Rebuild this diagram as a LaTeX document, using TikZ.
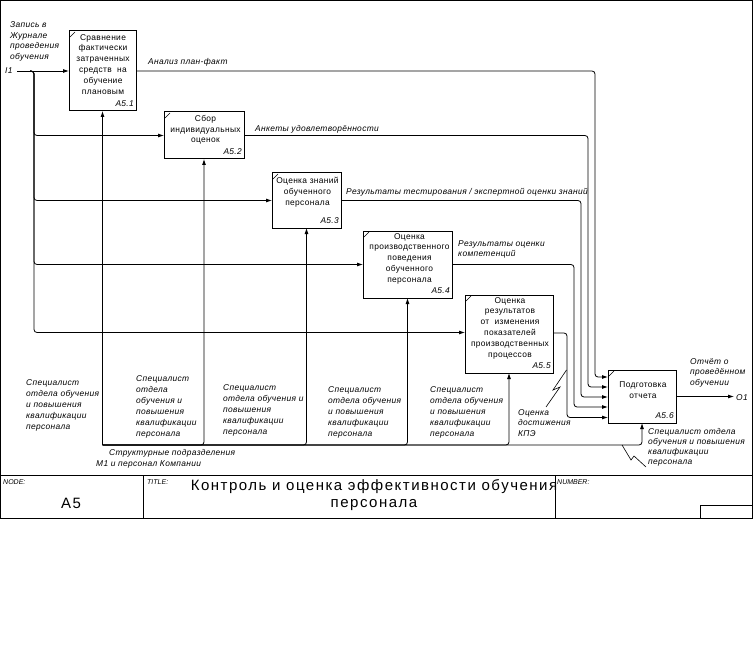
\documentclass[tikz,border=0pt]{standalone}
\usepackage{fontspec}
\setmainfont{Liberation Sans}[LetterSpace=4]
\newfontfamily\plainsans{Liberation Sans}
\newfontfamily\ttlfont{Liberation Sans}[LetterSpace=10]
\usetikzlibrary{arrows.meta}
\begin{document}
\begin{tikzpicture}[x=1pt,y=-1pt,
  fbox/.style={draw, line width=1pt, inner sep=0pt, outer sep=0pt,
    path picture={\draw[line width=0.6pt] ([xshift=1pt,yshift=-6pt]path picture bounding box.north west) -- ([xshift=6pt,yshift=-1pt]path picture bounding box.north west);}},
  arr/.style={line width=0.8pt, -{Latex[length=6pt,width=4pt]}},
  conn/.style={line width=0.6pt},
  btxt/.style={font=\fontsize{8.4}{10.8}\selectfont, align=center, inner sep=0pt},
  lbl/.style={font=\fontsize{8.4}{11}\selectfont\itshape, align=left, inner sep=0pt},
  idl/.style={font=\fontsize{8.4}{10}\selectfont\itshape, inner sep=0pt},
  tiny/.style={font=\plainsans\fontsize{7}{8}\selectfont\itshape, inner sep=0pt},
  ttl/.style={font=\ttlfont\fontsize{15}{17}\selectfont, align=center, inner sep=0pt},
]
\useasboundingbox (0,0) rectangle (754,663);
\fill[white] (0,0) rectangle (754,663);

% frame and title block
\draw[line width=1pt] (0.5,0.5) rectangle (752.5,518);
\draw[line width=1pt] (0.5,475) -- (752.5,475);
\draw[line width=0.8pt] (143,475) -- (143,518);
\draw[line width=0.8pt] (555,475) -- (555,518);
\draw[line width=0.8pt] (700,505) rectangle (752.5,518);
\node[tiny, anchor=base west] (nd) at (3,484) {NODE:};
\node[tiny, anchor=base west] (tt) at (147,484) {TITLE:};
\node[tiny, anchor=base west] (nb) at (557,484) {NUMBER:};
\node[font=\ttlfont\fontsize{15}{17}\selectfont, inner sep=0pt, anchor=base] (a5) at (71,508) {A5};
\node[ttl] (title) at (374,495) {Контроль и оценка эффективности обучения\\персонала};

% boxes
\node[fbox, minimum width=67pt, minimum height=80pt] (b1) at (102.5,71) {};
\node[fbox, minimum width=80pt, minimum height=47pt] (b2) at (204,135.5) {};
\node[fbox, minimum width=69pt, minimum height=55pt] (b3) at (306.5,200.5) {};
\node[fbox, minimum width=89pt, minimum height=67pt] (b4) at (407.5,264.5) {};
\node[fbox, minimum width=88pt, minimum height=78pt] (b5) at (509,334) {};
\node[fbox, minimum width=68pt, minimum height=53pt] (b6) at (642,396.5) {};

\node[btxt, anchor=north] (t1) at ([xshift=0.5pt,yshift=-3pt]b1.north) {Сравнение\\фактически\\затраченных\\средств~~на\\обучение\\плановым};
\node[btxt, anchor=north] (t2) at ([xshift=1.5pt,yshift=-3pt]b2.north) {Сбор\\индивидуальных\\оценок};
\node[btxt, anchor=north] (t3) at ([xshift=1pt,yshift=-4pt]b3.north) {Оценка знаний\\обученного\\персонала};
\node[btxt, anchor=north] (t4) at ([xshift=2pt,yshift=-2pt]b4.north) {Оценка\\производственного\\поведения\\обученного\\персонала};
\node[btxt, anchor=north] (t5) at ([xshift=1pt,yshift=-2pt]b5.north) {Оценка\\результатов\\от~~изменения\\показателей\\производственных\\процессов};
\node[btxt, anchor=north] (t6) at ([xshift=1pt,yshift=-12pt]b6.north) {Подготовка\\отчета};

\node[idl, anchor=base east] (d1) at ([xshift=-2pt,yshift=4.5pt]b1.south east) {A5.1};
\node[idl, anchor=base east] (d2) at ([xshift=-2pt,yshift=4pt]b2.south east) {A5.2};
\node[idl, anchor=base east] (d3) at ([xshift=-2pt,yshift=4.5pt]b3.south east) {A5.3};
\node[idl, anchor=base east] (d4) at ([xshift=-2pt,yshift=4.5pt]b4.south east) {A5.4};
\node[idl, anchor=base east] (d5) at ([xshift=-2pt,yshift=5pt]b5.south east) {A5.5};
\node[idl, anchor=base east] (d6) at ([xshift=-2pt,yshift=4.5pt]b6.south east) {A5.6};

% boundary points
\coordinate (i1) at (17,71);
\coordinate (ij) at (30,71);
\coordinate (m1) at (102.5,445);
\coordinate (o1) at (734,396.5);

% inputs
\draw[arr] (i1) -- (b1.west);
\draw[arr, rounded corners=3pt] (ij) -- (34,71) |- (b2.west);
\draw[arr, rounded corners=3pt] (ij) -- (34,71) |- (b3.west);
\draw[arr, rounded corners=3pt] (ij) -- (34,71) |- (b4.west);
\draw[arr, rounded corners=3pt] (ij) -- (34,71) |- ([yshift=1.5pt]b5.west);

% outputs to A5.6
\draw[arr, rounded corners=3pt] (b1.east) -| (595,377) -- ([yshift=19.5pt]b6.west);
\draw[arr, rounded corners=3pt] (b2.east) -| (588,387) -- ([yshift=9.5pt]b6.west);
\draw[arr, rounded corners=3pt] (b3.east) -| (581,397) -- ([yshift=-0.5pt]b6.west);
\draw[arr, rounded corners=3pt] (b4.east) -| (574,407) -- ([yshift=-10.5pt]b6.west);
\draw[arr, rounded corners=3pt] ([yshift=1pt]b5.east) -| (567,417.5) -- ([yshift=-21pt]b6.west);
\draw[arr] (b6.east) -- (o1);

% mechanisms
\draw[arr] (m1) -- (b1.south);
\draw[arr, rounded corners=3pt] (m1) -| (b2.south);
\draw[arr, rounded corners=3pt] (m1) -| (b3.south);
\draw[arr, rounded corners=3pt] (m1) -| (b4.south);
\draw[arr, rounded corners=3pt] (m1) -| (b5.south);
\draw[arr, rounded corners=3pt] (m1) -| (b6.south);

% squiggles
\draw[conn] (566.5,370) -- (553,390) -- (560,387) -- (546,407);
\draw[conn] (622,445) -- (631,460) -- (634,456) -- (646,467);

% labels
\node[lbl, anchor=north west, font=\fontsize{8.4}{10.6}\selectfont\itshape] (lzap) at (10,21.5) {Запись в\\Журнале\\проведения\\обучения};
\node[lbl, anchor=base west] (li1) at (5,74) {I1};
\node[lbl, anchor=base west] (lo1) at (736,400) {O1};
\node[lbl, anchor=base west] (la1) at (148,65) {Анализ план-факт};
\node[lbl, anchor=base west] (la2) at (255,132) {Анкеты удовлетворённости};
\node[lbl, anchor=base west] (la3) at (346,194) {Результаты тестирования / экспертной оценки знаний};
\node[lbl, anchor=north west, font=\fontsize{8.4}{10}\selectfont\itshape] (la4) at (458,241) {Результаты оценки\\компетенций};
\node[lbl, anchor=north west, font=\fontsize{8.4}{10.5}\selectfont\itshape] (la6) at (690,358) {Отчёт о\\проведённом\\обучении};
\node[lbl, anchor=north west, font=\fontsize{8.4}{10}\selectfont\itshape] (lm6) at (648,428) {Специалист отдела\\обучения и повышения\\квалификации\\персонала};
\node[lbl, anchor=north west] (lm1) at (26,379) {Специалист\\отдела обучения\\и повышения\\квалификации\\персонала};
\node[lbl, anchor=north west] (lm2) at (136,375) {Специалист\\отдела\\обучения и\\повышения\\квалификации\\персонала};
\node[lbl, anchor=north west] (lm3) at (223,384) {Специалист\\отдела обучения и\\повышения\\квалификации\\персонала};
\node[lbl, anchor=north west] (lm4) at (328,386) {Специалист\\отдела обучения\\и повышения\\квалификации\\персонала};
\node[lbl, anchor=north west] (lm5) at (430,386) {Специалист\\отдела обучения\\и повышения\\квалификации\\персонала};
\node[lbl, anchor=north west, font=\fontsize{8.4}{10.8}\selectfont\itshape] (lkpe) at (518,409) {Оценка\\достижения\\КПЭ};
\node[lbl, anchor=base west] (lstr) at (109,455) {Структурные подразделения};
\node[lbl, anchor=base west] (lm1b) at (96,466) {M1 и персонал Компании};
\end{tikzpicture}
\end{document}
